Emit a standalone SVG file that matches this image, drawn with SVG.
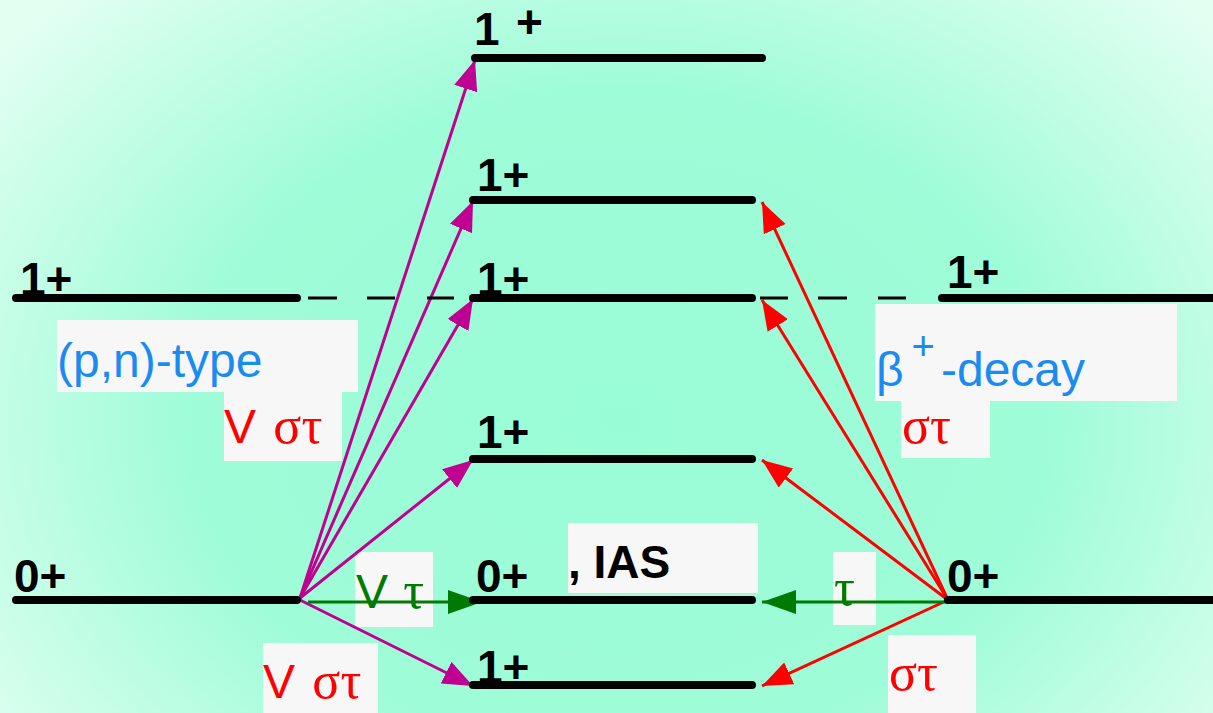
<svg xmlns="http://www.w3.org/2000/svg" width="1213" height="713" viewBox="0 0 1213 713">
<defs>
<radialGradient id="bg" cx="0" cy="0" r="1" gradientUnits="userSpaceOnUse" gradientTransform="translate(620 420) scale(780 600)">
<stop offset="0" stop-color="#98fdd6"/>
<stop offset="0.55" stop-color="#9ffcd8"/>
<stop offset="1" stop-color="#e2fff2"/>
</radialGradient>
<marker id="am" markerUnits="userSpaceOnUse" markerWidth="34" markerHeight="26" refX="30" refY="12" orient="auto"><path d="M0,0 L30,12 L0,24 z" fill="#bf0090"/></marker>
<marker id="ar" markerUnits="userSpaceOnUse" markerWidth="34" markerHeight="26" refX="30" refY="12" orient="auto"><path d="M0,0 L30,12 L0,24 z" fill="#ff0000"/></marker>
<marker id="ag" markerUnits="userSpaceOnUse" markerWidth="38" markerHeight="26" refX="34" refY="12" orient="auto"><path d="M0,0 L34,12 L0,24 z" fill="#007a00"/></marker>
<style>
.lv{stroke:#000;stroke-width:8;stroke-linecap:round;fill:none}
.ds{stroke:#000;stroke-width:3;fill:none}
.lb{font-family:"Liberation Sans",Arial,sans-serif;font-weight:bold;font-size:46px;fill:#000}
.box{fill:#f7f7f7}
.m{stroke:#bf0090;stroke-width:3;fill:none;marker-end:url(#am)}
.r{stroke:#ff0000;stroke-width:3;fill:none;marker-end:url(#ar)}
.g{stroke:#007a00;stroke-width:3;fill:none;marker-end:url(#ag)}
.blue{font-family:"Liberation Sans",Arial,sans-serif;font-size:48px;fill:#1a8cf0}
.red{font-family:"Liberation Sans",Arial,sans-serif;font-size:48px;fill:#ff0000}
.grn{font-family:"Liberation Sans",Arial,sans-serif;font-size:48px;fill:#007a00}
.gk{font-family:"Liberation Serif","Times New Roman",serif;font-size:52px}
</style>
</defs>
<rect x="0" y="0" width="1213" height="713" fill="url(#bg)"/>

<g id="label-boxes">
<rect class="box" x="57" y="320" width="301" height="72"/>
<rect class="box" x="224" y="392" width="118" height="69"/>
<rect class="box" x="875" y="304" width="302" height="97"/>
<rect class="box" x="901" y="401" width="89" height="57"/>
<rect class="box" x="568" y="523" width="190" height="70"/>
<rect class="box" x="355" y="552" width="78" height="75"/>
<rect class="box" x="833" y="552" width="43" height="73"/>
<rect class="box" x="263" y="643" width="115" height="70"/>
<rect class="box" x="888" y="635" width="88" height="78"/>
</g>

<g id="connectors">
<line class="m" x1="300" y1="598" x2="475" y2="60"/>
<line class="m" x1="300" y1="598" x2="473" y2="201"/>
<line class="m" x1="300" y1="598" x2="473" y2="299"/>
<line class="m" x1="300" y1="598" x2="473" y2="460"/>
<line class="m" x1="300" y1="600" x2="473" y2="686"/>
<line class="g" x1="308" y1="602" x2="482" y2="602"/>
<line class="r" x1="948" y1="600" x2="762" y2="202"/>
<line class="r" x1="948" y1="600" x2="762" y2="300"/>
<line class="r" x1="948" y1="600" x2="762" y2="460"/>
<line class="r" x1="948" y1="600" x2="762" y2="686"/>
<line class="g" x1="948" y1="602" x2="762" y2="602"/>
</g>

<g id="level-top"><line class="lv" x1="475" y1="58" x2="762" y2="58"/><text class="lb" x="474" y="45">1</text><text class="lb" x="516" y="38" font-size="32">+</text></g>
<g id="level-1b"><line class="lv" x1="473" y1="200" x2="752" y2="200"/><text class="lb" x="477" y="191">1+</text></g>
<g id="level-left-1"><line class="lv" x1="16" y1="298" x2="297" y2="298"/><text class="lb" x="20" y="295">1+</text></g>
<g id="level-mid-1"><line class="lv" x1="473" y1="298" x2="752" y2="298"/><text class="lb" x="477" y="295">1+</text></g>
<g id="level-right-1"><line class="lv" x1="942" y1="298" x2="1220" y2="298"/><text class="lb" x="947" y="288">1+</text></g>
<g id="dashes">
<line class="ds" x1="308" y1="298" x2="337" y2="298"/>
<line class="ds" x1="367" y1="298" x2="395" y2="298"/>
<line class="ds" x1="427" y1="298" x2="454" y2="298"/>
<line class="ds" x1="760" y1="298" x2="788" y2="298"/>
<line class="ds" x1="818" y1="298" x2="847" y2="298"/>
<line class="ds" x1="878" y1="298" x2="906" y2="298"/>
</g>
<g id="level-1c"><line class="lv" x1="473" y1="459" x2="752" y2="459"/><text class="lb" x="477" y="448">1+</text></g>
<g id="level-left-0"><line class="lv" x1="16" y1="600" x2="297" y2="600"/><text class="lb" x="14" y="592">0+</text></g>
<g id="level-mid-0"><line class="lv" x1="473" y1="600" x2="752" y2="600"/><text class="lb" x="476" y="592">0+</text><text class="lb" x="568" y="578" font-size="48">, IAS</text></g>
<g id="level-right-0"><line class="lv" x1="948" y1="600" x2="1220" y2="600"/><text class="lb" x="947" y="592">0+</text></g>
<g id="level-bottom"><line class="lv" x1="473" y1="685" x2="752" y2="685"/><text class="lb" x="477" y="683">1+</text></g>

<g id="labels">
<text class="blue" x="57" y="377">(p,n)-type</text>
<text class="red" x="224" y="443">V <tspan class="gk" dx="4">στ</tspan></text>
<text class="blue" x="876" y="386">β<tspan font-size="40" dx="8" dy="-26">+</tspan><tspan dy="26" dx="6">-decay</tspan></text>
<text class="red gk" x="902" y="443">στ</text>
<text class="grn" x="356" y="608">V <tspan class="gk" font-size="48" dx="2">τ</tspan></text>
<text class="grn gk" x="834" y="605" font-size="48">τ</text>
<text class="red" x="263" y="698">V <tspan class="gk" dx="4">στ</tspan></text>
<text class="red gk" x="889" y="690">στ</text>
</g>
</svg>
